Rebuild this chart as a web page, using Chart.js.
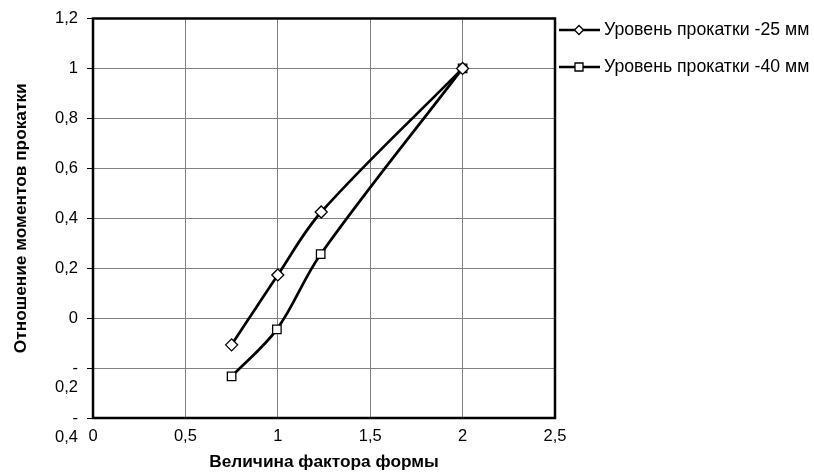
<!DOCTYPE html>
<html>
<head>
<meta charset="utf-8">
<script src="https://cdn.jsdelivr.net/npm/chart.js@4/dist/chart.umd.min.js"></script>
<style>
  html, body { margin: 0; padding: 0; background: #fff; }
  #wrap { width: 814px; height: 473px; position: relative; }
</style>
</head>
<body>
<div id="wrap"><canvas id="c" width="814" height="473"></canvas></div>
<script>
// Shape factor (x) and rolling moment ratio (y) for two rolling levels
const seriesNames = ['Уровень прокатки -25 мм', 'Уровень прокатки -40 мм'];
const x25 = [0.75, 1.0, 1.235, 2.0];
const y25 = [-0.107, 0.173, 0.425, 1.0];
const x40 = [0.75, 0.995, 1.232, 2.0];
const y40 = [-0.233, -0.045, 0.256, 1.0];

const xTickLabels = {0: '0', 0.5: '0,5', 1: '1', 1.5: '1,5', 2: '2', 2.5: '2,5'};
// Negative labels wrap: the minus sign sits on the tick line, the number below it
const yTickLabels = {
  '-0.4': ['', '-', '0,4'], '-0.2': ['', '-', '0,2'], '0': '0', '0.2': '0,2', '0.4': '0,4',
  '0.6': '0,6', '0.8': '0,8', '1': '1', '1.2': '1,2'
};

const FONT = '"Liberation Sans", Arial, sans-serif';

const toPoints = (xs, ys) => xs.map((x, i) => ({x: x, y: ys[i]}));

// Frame around the plotting area
const framePlugin = {
  id: 'frame',
  beforeDatasetsDraw(chart) {
    const a = chart.chartArea, ctx = chart.ctx;
    ctx.save();
    ctx.strokeStyle = '#000';
    ctx.lineWidth = 2.5;
    ctx.strokeRect(a.left, a.top, a.right - a.left, a.bottom - a.top);
    ctx.restore();
  }
};

// Legend: line segment with marker, then the series name
const legendPlugin = {
  id: 'sideLegend',
  afterDraw(chart) {
    const ctx = chart.ctx;
    const rows = [
      {y: 30, style: 'rectRot'},
      {y: 67, style: 'rect'}
    ];
    ctx.save();
    rows.forEach((r, i) => {
      ctx.strokeStyle = '#000';
      ctx.lineWidth = 2.5;
      ctx.beginPath();
      ctx.moveTo(559, r.y);
      ctx.lineTo(600, r.y);
      ctx.stroke();
      ctx.fillStyle = '#fff';
      ctx.lineWidth = 1.3;
      ctx.beginPath();
      if (r.style === 'rectRot') {
        ctx.moveTo(579, r.y - 4.5);
        ctx.lineTo(583.5, r.y);
        ctx.lineTo(579, r.y + 4.5);
        ctx.lineTo(574.5, r.y);
        ctx.closePath();
      } else {
        ctx.rect(575, r.y - 4, 8, 8);
      }
      ctx.fill();
      ctx.stroke();
      ctx.fillStyle = '#000';
      ctx.font = '17.7px ' + FONT;
      ctx.textBaseline = 'middle';
      ctx.textAlign = 'left';
      ctx.fillText(seriesNames[i], 604, r.y);
    });
    ctx.restore();
  }
};

new Chart(document.getElementById('c'), {
  type: 'line',
  data: {
    datasets: [
      {
        label: seriesNames[0],
        data: toPoints(x25, y25),
        borderColor: '#000',
        borderWidth: 2.7,
        tension: 0.35,
        pointStyle: 'rectRot',
        pointRadius: 6,
        pointBackgroundColor: '#fff',
        pointBorderColor: '#000',
        pointBorderWidth: 1.3
      },
      {
        label: seriesNames[1],
        data: toPoints(x40, y40),
        borderColor: '#000',
        borderWidth: 2.7,
        tension: 0.35,
        pointStyle: 'rect',
        pointRadius: 6,
        pointBackgroundColor: '#fff',
        pointBorderColor: '#000',
        pointBorderWidth: 1.3
      }
    ]
  },
  options: {
    responsive: false,
    animation: false,
    layout: { padding: { left: 0, top: 18, right: 259, bottom: 0 } },
    plugins: { legend: { display: false }, tooltip: { enabled: false } },
    scales: {
      x: {
        type: 'linear',
        min: 0, max: 2.5,
        afterFit(s) { s.height = 473 - 418; },
        afterBuildTicks(s) { s.ticks = [0, 0.5, 1, 1.5, 2, 2.5].map(v => ({value: v})); },
        grid: { color: '#808080', lineWidth: 1, drawTicks: false },
        border: { display: false },
        ticks: {
          padding: 9,
          autoSkip: false,
          color: '#000',
          font: { family: FONT, size: 16.5 },
          maxRotation: 0,
          callback: v => xTickLabels[v]
        },
        title: {
          display: true,
          text: 'Величина фактора формы',
          color: '#000',
          font: { family: FONT, size: 17.3, weight: 'bold' },
          padding: { top: 3, bottom: 0 }
        }
      },
      y: {
        type: 'linear',
        min: -0.4, max: 1.2,
        afterFit(s) { s.width = 93; },
        afterBuildTicks(s) { s.ticks = [-0.4, -0.2, 0, 0.2, 0.4, 0.6, 0.8, 1, 1.2].map(v => ({value: v})); },
        grid: { color: '#808080', lineWidth: 1, tickLength: 6, tickColor: '#000' },
        border: { display: false },
        ticks: {
          padding: 9,
          autoSkip: false,
          color: '#000',
          font: { family: FONT, size: 16.5, lineHeight: 1.15 },
          callback: v => yTickLabels[String(Math.round(v * 10) / 10)]
        },
        title: {
          display: true,
          text: 'Отношение моментов прокатки',
          color: '#000',
          font: { family: FONT, size: 17.3, weight: 'bold' },
          padding: { top: 11, bottom: 0 }
        }
      }
    }
  },
  plugins: [framePlugin, legendPlugin]
});
</script>
</body>
</html>
